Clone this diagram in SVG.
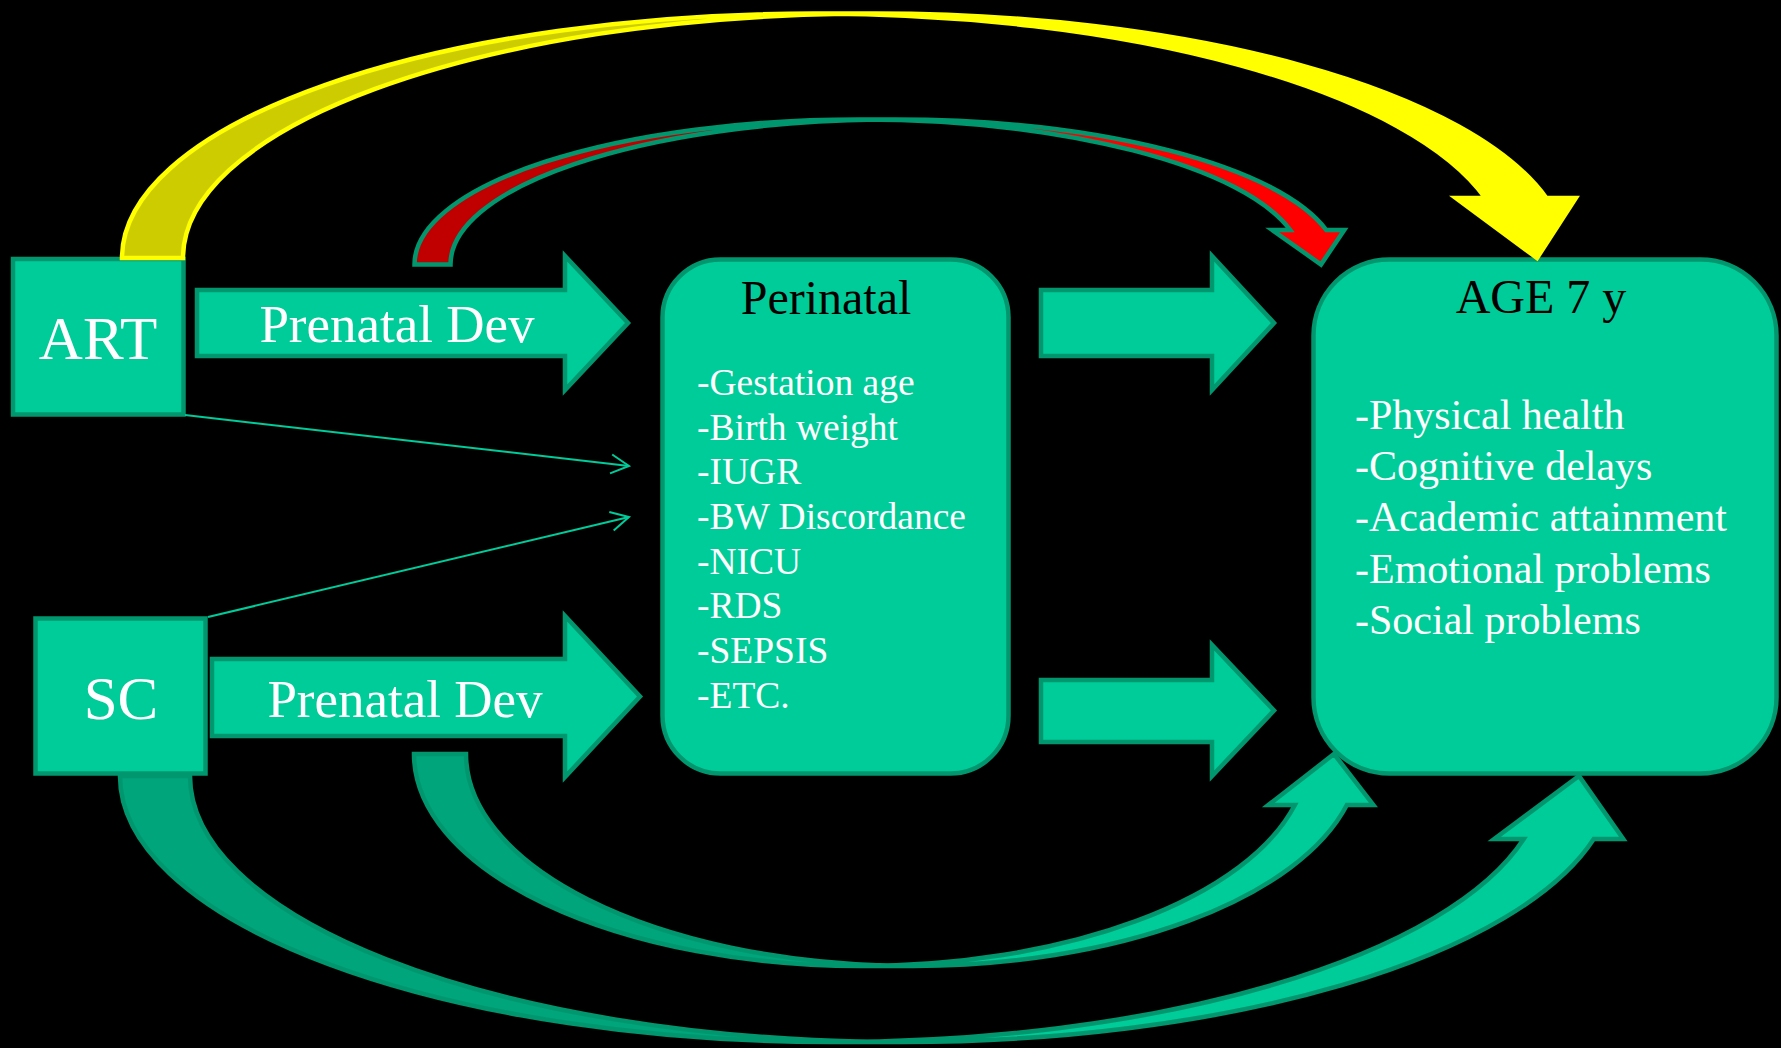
<svg xmlns="http://www.w3.org/2000/svg" width="1781" height="1048" viewBox="0 0 1781 1048">
<style>
.bg{fill:#000}
.box{fill:#00CC99;stroke:#00976F;stroke-width:4.5}
.blk{fill:#00CC99;stroke:#00976F;stroke-width:4.5;stroke-linejoin:miter;stroke-miterlimit:10}
.serif{font-family:"Liberation Serif","Times New Roman",serif}
.w{fill:#FFFFFF}
.k{fill:#000000}
.big{font-size:61px}
.lbl{font-size:53px}
.ttl{font-size:48px}
.li1{font-size:37.5px}
.li2{font-size:42px}
.thin{fill:none;stroke:#00CC99;stroke-width:2}
.tfront{fill:#00CC99;stroke:none}
.tback{fill:#00A57B;stroke:none}
.tline{fill:none;stroke:#00976F;stroke-width:4.5;stroke-linejoin:miter;stroke-miterlimit:10}
.yfront{fill:#FFFF00;stroke:none}
.yback{fill:#CCCC00;stroke:none}
.yline{fill:none;stroke:#FFFF00;stroke-width:4.5;stroke-linejoin:miter;stroke-miterlimit:10}
.rfront{fill:#FF0000;stroke:none}
.rback{fill:#C00000;stroke:none}
</style>
<defs>
<marker id="openArrow" viewBox="-20 -11 22 22" refX="0" refY="0" markerWidth="22" markerHeight="22" markerUnits="userSpaceOnUse" orient="auto">
<path d="M-18,-9.5 L0,0 L-18,9.5" fill="none" stroke="#00CC99" stroke-width="2"/>
</marker>
</defs>
<rect class="bg" x="0" y="0" width="1781" height="1048"/>

<g id="node-art">
<rect class="box" x="13" y="259" width="170.5" height="155.5"/>
<text class="serif w big" x="98" y="359" text-anchor="middle">ART</text>
</g>

<g id="node-sc">
<rect class="box" x="35.5" y="618.5" width="170" height="155"/>
<text class="serif w big" x="121" y="719" text-anchor="middle">SC</text>
</g>

<g id="node-perinatal">
<rect class="box" x="662.5" y="259.5" width="346" height="514" rx="58" ry="58"/>
<text class="serif k ttl" x="826" y="314" text-anchor="middle">Perinatal</text>
<text class="serif w li1" x="697" y="395">-Gestation age</text>
<text class="serif w li1" x="697" y="440">-Birth weight</text>
<text class="serif w li1" x="697" y="484">-IUGR</text>
<text class="serif w li1" x="697" y="529">-BW Discordance</text>
<text class="serif w li1" x="697" y="574">-NICU</text>
<text class="serif w li1" x="697" y="618">-RDS</text>
<text class="serif w li1" x="697" y="663">-SEPSIS</text>
<text class="serif w li1" x="697" y="708">-ETC.</text>
</g>

<g id="node-age7">
<rect class="box" x="1313.5" y="259.5" width="463" height="514" rx="76" ry="76"/>
<text class="serif k ttl" x="1541" y="313" text-anchor="middle">AGE 7 y</text>
<text class="serif w li2" x="1355" y="429">-Physical health</text>
<text class="serif w li2" x="1355" y="480">-Cognitive delays</text>
<text class="serif w li2" x="1355" y="531">-Academic attainment</text>
<text class="serif w li2" x="1355" y="583">-Emotional problems</text>
<text class="serif w li2" x="1355" y="634">-Social problems</text>
</g>

<g id="connectors">
<!-- thin arrows -->
<line class="thin" x1="185" y1="415" x2="629" y2="466" marker-end="url(#openArrow)"/>
<line class="thin" x1="208" y1="617" x2="629" y2="517" marker-end="url(#openArrow)"/>

<!-- block arrows -->
<g id="arrow-art-prenatal">
<path class="blk" d="M197,290 L565,290 L565,256 L628,323 L565,390 L565,356 L197,356 Z"/>
<text class="serif w lbl" x="397" y="342" text-anchor="middle">Prenatal Dev</text>
</g>
<g id="arrow-sc-prenatal">
<path class="blk" d="M212,659 L565,659 L565,616 L640,696.5 L565,777 L565,736 L212,736 Z"/>
<text class="serif w lbl" x="405" y="717" text-anchor="middle">Prenatal Dev</text>
</g>
<path id="arrow-peri-age-1" class="blk" d="M1041,290 L1212,290 L1212,256 L1274,323 L1212,390 L1212,356 L1041,356 Z"/>
<path id="arrow-peri-age-2" class="blk" d="M1041,680 L1212,680 L1212,645 L1274,710.5 L1212,776 L1212,742 L1041,742 Z"/>

<!-- yellow curved arrow ART -> AGE 7 -->
<g id="curve-yellow">
<path class="yfront" d="M1537,258 L1455.82,198 L1485.32,198 A692.25,244.5 0 0 0 814.25,13.5 L875.25,13.5 A692.25,244.5 0 0 1 1546.32,198 L1575.82,198 Z"/>
<path class="yback" d="M844.75,13.74 A692.25,244.5 0 0 0 183,258 L122,258 A692.25,244.5 0 0 1 844.75,13.74 Z"/>
<path class="yline" d="M844.75,13.74 A692.25,244.5 0 0 0 183,258 L122,258 A692.25,244.5 0 0 1 814.25,13.5 L875.25,13.5 A692.25,244.5 0 0 1 1546.32,198 L1575.82,198 L1537,258 L1455.82,198 L1485.32,198 A692.25,244.5 0 0 0 814.25,13.5"/>
</g>

<!-- red curved arrow -->
<g id="curve-red">
<path class="rfront" d="M1321,264.5 L1272.25,230 L1290.25,230 A444.25,145 0 0 0 858.75,119.5 L894.75,119.5 A444.25,145 0 0 1 1326.25,230 L1344.25,230 Z"/>
<path class="rback" d="M876.75,119.62 A444.25,145 0 0 0 450.5,264.5 L414.5,264.5 A444.25,145 0 0 1 876.75,119.62 Z"/>
<path class="tline" d="M876.75,119.62 A444.25,145 0 0 0 450.5,264.5 L414.5,264.5 A444.25,145 0 0 1 858.75,119.5 L894.75,119.5 A444.25,145 0 0 1 1326.25,230 L1344.25,230 L1321,264.5 L1272.25,230 L1290.25,230 A444.25,145 0 0 0 858.75,119.5"/>
</g>

<!-- inner teal curved up arrow -->
<g id="curve-teal-inner">
<path class="tfront" d="M1334,754 L1268.36,805 L1294.86,805 A447,212 0 0 1 861,966 L913,966 A447,212 0 0 0 1346.86,805 L1373.36,805 Z"/>
<path class="tback" d="M887,965.64 A447,212 0 0 1 466,754 L414,754 A447,212 0 0 0 887,965.64 Z"/>
<path class="tline" d="M887,965.64 A447,212 0 0 1 466,754 L414,754 A447,212 0 0 0 861,966 L913,966 A447,212 0 0 0 1346.86,805 L1373.36,805 L1334,754 L1268.36,805 L1294.86,805 A447,212 0 0 1 861,966"/>
</g>

<!-- outer teal curved up arrow -->
<g id="curve-teal-outer">
<path class="tfront" d="M1579,776 L1494.24,839 L1523.74,839 A712,266 0 0 1 832,1042 L902,1042 A712,266 0 0 0 1593.74,839 L1623.24,839 Z"/>
<path class="tback" d="M867,1041.68 A712,266 0 0 1 190,776 L120,776 A712,266 0 0 0 867,1041.68 Z"/>
<path class="tline" d="M867,1041.68 A712,266 0 0 1 190,776 L120,776 A712,266 0 0 0 832,1042 L902,1042 A712,266 0 0 0 1593.74,839 L1623.24,839 L1579,776 L1494.24,839 L1523.74,839 A712,266 0 0 1 832,1042"/>
</g>
</g>
</svg>
